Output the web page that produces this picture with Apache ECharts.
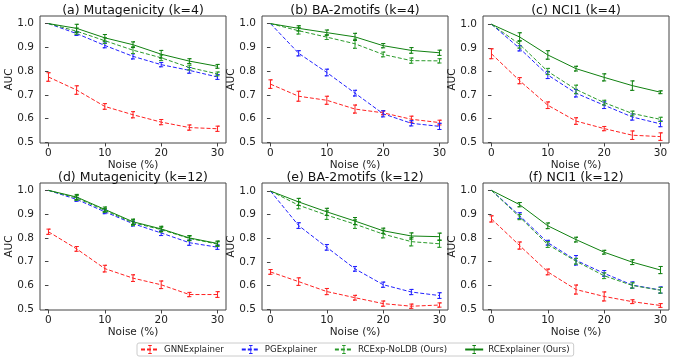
<!DOCTYPE html>
<html>
<head>
<meta charset="utf-8">
<script src="https://cdn.jsdelivr.net/npm/echarts@6/dist/echarts.min.js"></script>
<style>
  html, body { margin: 0; padding: 0; background: #fff; }
  #chart { width: 674px; height: 363px; }
</style>
</head>
<body>
<div id="chart"></div>
<script>
const noise = [0, 5, 10, 15, 20, 25, 30]
const seriesNames = ['GNNExplainer', 'PGExplainer', 'RCExp-NoLDB (Ours)', 'RCExplainer (Ours)']
const panelTitles = [
  '(a) Mutagenicity (k=4)', '(b) BA-2motifs (k=4)', '(c) NCI1 (k=4)',
  '(d) Mutagenicity (k=12)', '(e) BA-2motifs (k=12)', '(f) NCI1 (k=12)',
]
const xTicks = [0, 10, 20, 30]
const yTicks = [0.5, 0.6, 0.7, 0.8, 0.9, 1.0]

// (a) Mutagenicity k=4
const mutaK4Gnn = [0.775, 0.72, 0.651, 0.616, 0.585, 0.562, 0.557]
const mutaK4Pg = [1.0, 0.958, 0.908, 0.862, 0.827, 0.803, 0.775]
const mutaK4NoLdb = [1.0, 0.968, 0.928, 0.888, 0.856, 0.815, 0.788]
const mutaK4Rc = [1.0, 0.98, 0.94, 0.911, 0.871, 0.842, 0.82]
const mutaK4GnnErr = [0.018, 0.018, 0.012, 0.013, 0.011, 0.011, 0.011]
const mutaK4PgErr = [0, 0.008, 0.01, 0.011, 0.009, 0.012, 0.01]
const mutaK4NoLdbErr = [0, 0.013, 0.012, 0.014, 0.012, 0.01, 0.008]
const mutaK4RcErr = [0, 0.017, 0.014, 0.012, 0.016, 0.01, 0.008]

// (b) BA-2motifs k=4
const baK4Gnn = [0.745, 0.694, 0.677, 0.64, 0.624, 0.597, 0.583]
const baK4Pg = [1.0, 0.875, 0.794, 0.707, 0.62, 0.58, 0.567]
const baK4NoLdb = [1.0, 0.97, 0.943, 0.915, 0.87, 0.844, 0.843]
const baK4Rc = [1.0, 0.98, 0.962, 0.944, 0.907, 0.887, 0.877]
const baK4GnnErr = [0.018, 0.021, 0.017, 0.017, 0.008, 0.013, 0.01]
const baK4PgErr = [0, 0.011, 0.014, 0.012, 0.013, 0.011, 0.013]
const baK4NoLdbErr = [0, 0.014, 0.01, 0.019, 0.01, 0.011, 0.009]
const baK4RcErr = [0, 0.011, 0.011, 0.015, 0.009, 0.012, 0.011]

// (c) NCI1 k=4
const nciK4Gnn = [0.875, 0.761, 0.657, 0.59, 0.558, 0.53, 0.524]
const nciK4Pg = [1.0, 0.898, 0.785, 0.708, 0.657, 0.607, 0.578]
const nciK4NoLdb = [1.0, 0.915, 0.8, 0.724, 0.668, 0.622, 0.597]
const nciK4Rc = [1.0, 0.946, 0.87, 0.812, 0.775, 0.74, 0.712]
const nciK4GnnErr = [0.021, 0.013, 0.014, 0.014, 0.009, 0.018, 0.016]
const nciK4PgErr = [0, 0.011, 0.015, 0.016, 0.014, 0.013, 0.012]
const nciK4NoLdbErr = [0, 0.016, 0.013, 0.018, 0.01, 0.01, 0.009]
const nciK4RcErr = [0, 0.018, 0.018, 0.01, 0.015, 0.02, 0.006]

// (d) Mutagenicity k=12
const mutaK12Gnn = [0.826, 0.754, 0.671, 0.631, 0.603, 0.562, 0.562]
const mutaK12Pg = [1.0, 0.962, 0.91, 0.86, 0.821, 0.78, 0.761]
const mutaK12NoLdb = [1.0, 0.968, 0.916, 0.864, 0.835, 0.798, 0.774]
const mutaK12Rc = [1.0, 0.972, 0.92, 0.868, 0.838, 0.8, 0.777]
const mutaK12GnnErr = [0.011, 0.01, 0.014, 0.014, 0.016, 0.009, 0.012]
const mutaK12PgErr = [0, 0.008, 0.008, 0.01, 0.011, 0.011, 0.009]
const mutaK12NoLdbErr = [0, 0.01, 0.008, 0.012, 0.01, 0.01, 0.01]
const mutaK12RcErr = [0, 0.011, 0.01, 0.011, 0.011, 0.01, 0.01]

// (e) BA-2motifs k=12
const baK12Gnn = [0.658, 0.617, 0.575, 0.549, 0.524, 0.513, 0.518]
const baK12Pg = [1.0, 0.854, 0.762, 0.671, 0.604, 0.573, 0.558]
const baK12NoLdb = [1.0, 0.94, 0.898, 0.86, 0.818, 0.786, 0.777]
const baK12Rc = [1.0, 0.954, 0.912, 0.873, 0.832, 0.81, 0.807]
const baK12GnnErr = [0.01, 0.016, 0.013, 0.01, 0.011, 0.009, 0.009]
const baK12PgErr = [0, 0.012, 0.012, 0.01, 0.011, 0.011, 0.012]
const baK12NoLdbErr = [0, 0.015, 0.018, 0.018, 0.016, 0.018, 0.015]
const baK12RcErr = [0, 0.015, 0.015, 0.015, 0.011, 0.013, 0.015]

// (f) NCI1 k=12
const nciK12Gnn = [0.88, 0.768, 0.657, 0.583, 0.554, 0.532, 0.516]
const nciK12Pg = [1.0, 0.894, 0.78, 0.706, 0.651, 0.602, 0.581]
const nciK12NoLdb = [1.0, 0.888, 0.772, 0.702, 0.641, 0.6, 0.58]
const nciK12Rc = [1.0, 0.94, 0.851, 0.793, 0.74, 0.698, 0.665]
const nciK12GnnErr = [0.013, 0.015, 0.012, 0.019, 0.019, 0.008, 0.008]
const nciK12PgErr = [0, 0.012, 0.01, 0.02, 0.012, 0.013, 0.013]
const nciK12NoLdbErr = [0, 0.011, 0.012, 0.012, 0.012, 0.011, 0.012]
const nciK12RcErr = [0, 0.009, 0.012, 0.01, 0.008, 0.01, 0.015]

const panelMeans = [
  [mutaK4Gnn, mutaK4Pg, mutaK4NoLdb, mutaK4Rc],
  [baK4Gnn, baK4Pg, baK4NoLdb, baK4Rc],
  [nciK4Gnn, nciK4Pg, nciK4NoLdb, nciK4Rc],
  [mutaK12Gnn, mutaK12Pg, mutaK12NoLdb, mutaK12Rc],
  [baK12Gnn, baK12Pg, baK12NoLdb, baK12Rc],
  [nciK12Gnn, nciK12Pg, nciK12NoLdb, nciK12Rc],
]
const panelErrs = [
  [mutaK4GnnErr, mutaK4PgErr, mutaK4NoLdbErr, mutaK4RcErr],
  [baK4GnnErr, baK4PgErr, baK4NoLdbErr, baK4RcErr],
  [nciK4GnnErr, nciK4PgErr, nciK4NoLdbErr, nciK4RcErr],
  [mutaK12GnnErr, mutaK12PgErr, mutaK12NoLdbErr, mutaK12RcErr],
  [baK12GnnErr, baK12PgErr, baK12NoLdbErr, baK12RcErr],
  [nciK12GnnErr, nciK12PgErr, nciK12NoLdbErr, nciK12RcErr],
]

// axis ranges (bottom kept at 0.5 so its label stays visible)
const yMins = [0.497, 0.497, 0.497, 0.497, 0.497, 0.497]
const yMaxs = [1.032, 1.032, 1.035, 1.031, 1.034, 1.031]

const colors = ['#ff2020', '#2020ff', '#2a9a2a', '#108010']
const dashes = [[4, 2], [4, 2], [4, 2], 'solid']
const font = 'DejaVu Sans'

// I-beam glyph for legend keys, padded into a square box
const errSymbol = 'path://M0,0L0,0ZM10,10L10,10ZM3,0H7V0.9H5.45V9.1H7V10H3V9.1H4.55V0.9H3Z'

const gridLefts = [40, 262, 483]
const gridTops = [16, 183]
const gridWidth = 186
const gridHeight = 127

const chart = echarts.init(document.getElementById('chart'))

function renderErrorBar(params, api) {
  const x = api.value(0)
  const m = api.value(1)
  const e = api.value(2)
  if (!e) return { type: 'group', children: [] }
  const hi = api.coord([x, m + e])
  const lo = api.coord([x, m - e])
  const cap = 2
  return {
    type: 'polyline',
    shape: {
      points: [
        [hi[0] - cap, hi[1]], [hi[0] + cap, hi[1]], [hi[0], hi[1]],
        [lo[0], lo[1]], [lo[0] - cap, lo[1]], [lo[0] + cap, lo[1]],
      ],
    },
    style: { stroke: api.visual('color'), fill: null, lineWidth: 1 },
  }
}

const grids = []
const xAxes = []
const yAxes = []
const titles = []
const series = []

panelTitles.forEach((title, p) => {
  const left = gridLefts[p % 3]
  const top = gridTops[Math.floor(p / 3)]
  grids.push({
    left, top, width: gridWidth, height: gridHeight,
    show: true, borderColor: '#444', borderWidth: 1,
  })
  titles.push({
    text: title, left: left + gridWidth / 2, top: top - 12, textAlign: 'center', padding: 0,
    textStyle: { fontFamily: font, fontSize: 12.5, fontWeight: 'normal', color: '#111' },
  })
  xAxes.push({
    type: 'value', gridIndex: p, min: -1.5, max: 31.5,
    name: 'Noise (%)', nameLocation: 'middle', nameGap: 17,
    nameTextStyle: { fontFamily: font, fontSize: 10.5, color: '#222' },
    axisLine: { show: false },
    axisTick: { show: true, customValues: xTicks, length: 3.5, lineStyle: { color: '#444' } },
    axisLabel: { customValues: xTicks, fontFamily: font, fontSize: 10.5, color: '#222', margin: 5 },
    splitLine: { show: false },
  })
  yAxes.push({
    type: 'value', gridIndex: p, min: yMins[p], max: yMaxs[p],
    name: 'AUC', nameLocation: 'middle', nameGap: 25, nameMoveOverlap: false,
    nameTextStyle: { fontFamily: font, fontSize: 10.5, color: '#222' },
    axisLine: { show: false },
    axisTick: { show: true, customValues: yTicks, length: 3.5, lineStyle: { color: '#444' } },
    axisLabel: {
      customValues: yTicks, fontFamily: font, fontSize: 10.5, color: '#222', margin: 6,
      formatter: (v) => v.toFixed(1),
    },
    splitLine: { show: false },
  })
  seriesNames.forEach((name, s) => {
    const means = panelMeans[p][s]
    const errs = panelErrs[p][s]
    series.push({
      name, type: 'line', xAxisIndex: p, yAxisIndex: p,
      data: noise.map((x, i) => [x, means[i]]),
      showSymbol: false, symbol: errSymbol, symbolSize: 8,
      itemStyle: { color: colors[s] },
      lineStyle: { color: colors[s], width: 1, type: dashes[s] },
      silent: true, z: 2 + s,
    })
    series.push({
      type: 'custom', xAxisIndex: p, yAxisIndex: p,
      data: noise.map((x, i) => [x, means[i], errs[i]]),
      encode: { x: 0, y: 1 },
      renderItem: renderErrorBar,
      itemStyle: { color: colors[s] },
      silent: true, z: 2 + s,
    })
  })
})

chart.setOption({
  animation: false,
  title: titles,
  grid: grids,
  xAxis: xAxes,
  yAxis: yAxes,
  legend: {
    data: seriesNames,
    left: 137, top: 343,
    itemWidth: 18, itemHeight: 11, itemGap: 17,
    padding: [2, 4, 2, 3],
    borderColor: '#ccc', borderWidth: 1, borderRadius: 2,
    textStyle: { fontFamily: font, fontSize: 8.6, color: '#222' },
    selectedMode: false,
  },
  series,
})
</script>
</body>
</html>
